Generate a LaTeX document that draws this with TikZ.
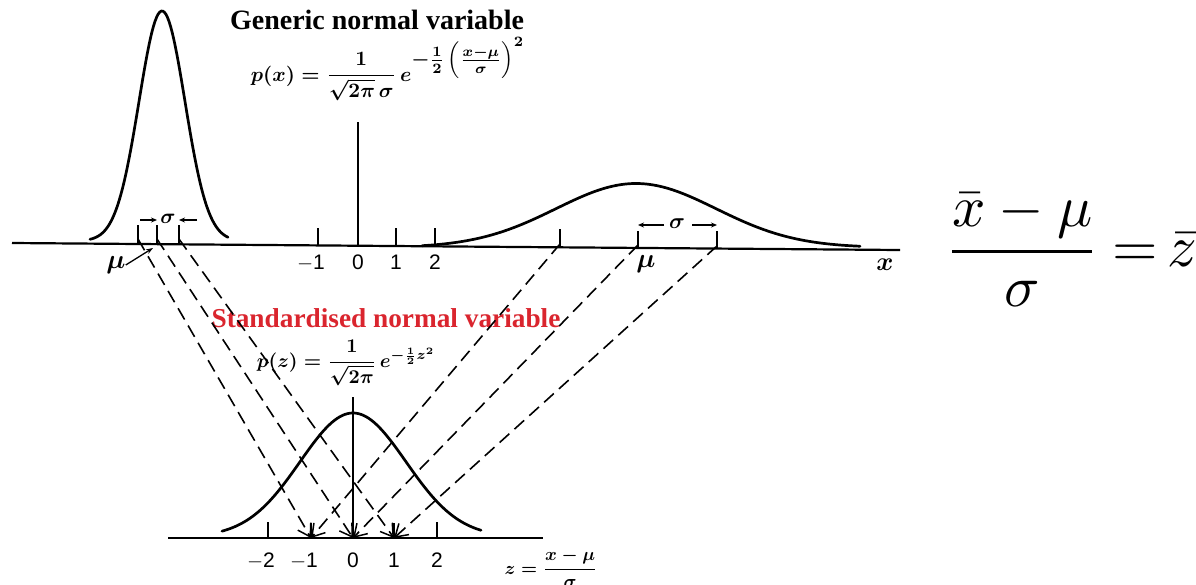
\documentclass[tikz,border=0pt]{standalone}
\usepackage{graphicx}
\usepackage{fontspec}
\usepackage{amsmath}
\setmainfont{Liberation Serif}
\newfontfamily\numfont{Liberation Sans}
\usetikzlibrary{arrows.meta}
\definecolor{redtitle}{RGB}{218,37,46}
\newcommand\myPxFormula{$p(x)=\dfrac{1}{\sqrt{2\pi}\,\sigma}\,e^{\textstyle-\frac{1}{2}\left(\frac{x-\mu}{\sigma}\right)^{2}}$}
\newcommand\myPzFormula{$p(z)=\dfrac{1}{\sqrt{2\pi}}\,e^{-\frac{1}{2}z^{2}}$}
\newcommand\myZdef{$z=\dfrac{x-\mu}{\sigma}$}
\newcommand\myZbar{$\dfrac{\bar{x}-\mu}{\sigma}\mkern-1mu=\mkern-2mu\bar{z}$}
\begin{document}
\begin{tikzpicture}[x=1pt,y=-1pt,
  curve/.style={line width=2.7pt, line join=round, line cap=round},
  axisline/.style={line width=2.2pt},
  tickline/.style={line width=1.6pt},
  dashline/.style={line width=1.6pt, dash pattern=on 13pt off 7pt,
     -{Straight Barb[length=12pt,width=15pt,line width=1.5pt]}},
  sigarrow/.style={line width=1.3pt, -{Stealth[length=6pt,width=5pt]}},
  numlbl/.style={font=\numfont\fontsize{21}{24}\selectfont, inner sep=0pt, anchor=base},
  mulbl/.style={font=\fontsize{10}{12}\selectfont\mathversion{bold}, inner sep=0pt},
  formula/.style={font=\fontsize{10}{12}\selectfont\mathversion{bold}, inner sep=0pt, anchor=base},
  titlefont/.style={font=\bfseries\fontsize{28}{30}\selectfont, inner sep=0pt, anchor=base}]
\useasboundingbox (0,0) rectangle (1196,584);

% ---------- top axis ----------
\coordinate (axL) at (12,243);
\coordinate (axR) at (900,250);
\draw[axisline] (axL) -- (axR);

% left narrow curve
\draw[curve] plot[domain=-72:66, samples=90] ({162+\x},{241-230*exp(-((\x/23)^2)/2)});
% left ticks
\coordinate (LA) at (138,244); \coordinate (LB) at (157,244); \coordinate (LC) at (179,244);
\draw[tickline] (LA) -- (138,225);
\draw[tickline] (LB) -- (157,225);
\draw[tickline] (LC) -- (179,225);
\node[mulbl] (sigL) at (168,219) {\scalebox{2.1}{$\sigma$}};
\coordinate (sLa) at (140,220); \coordinate (sLb) at (157,220);
\coordinate (sLc) at (197,220); \coordinate (sLd) at (179,220);
\draw[sigarrow] (sLa) -- (sLb);
\draw[sigarrow] (sLc) -- (sLd);
\node[mulbl] (muL) at (116,265) {\scalebox{2.7}{$\mu$}};
\coordinate (muLt) at (153,248);
\draw[line width=1.3pt, -{Stealth[length=7pt,width=5pt]}] (muL.east) -- (muLt);

% central vertical axis and ticks
\coordinate (c0) at (358,245.7);
\draw[line width=1.6pt] (c0) -- (358,122);
\draw[tickline] (318,245.4) -- (318,228);
\draw[tickline] (396,246) -- (396,228);
\draw[tickline] (435,246.3) -- (435,228);
\node[numlbl] (tm1) at (311,269) {$-$1};
\node[numlbl] (t0) at (358,269) {0};
\node[numlbl] (t1) at (396,269) {1};
\node[numlbl] (t2) at (435,269) {2};

% right wide curve
\draw[curve] plot[domain=-214:224, samples=120] ({636+\x},{247.5-64*exp(-((\x/80)^2)/2)});
\coordinate (RA) at (560,247); \coordinate (RB) at (638,248); \coordinate (RC) at (717,249);
\draw[tickline] (RA) -- (560,229);
\draw[tickline] (RB) -- (638,231);
\draw[tickline] (RC) -- (717,231);
\node[mulbl] (sigR) at (677,224) {\scalebox{2.2}{$\sigma$}};
\coordinate (sRa) at (664,225); \coordinate (sRb) at (638,225);
\coordinate (sRc) at (692,225); \coordinate (sRd) at (717,225);
\draw[sigarrow] (sRa) -- (sRb);
\draw[sigarrow] (sRc) -- (sRd);
\node[mulbl] (muR) at (646,264) {\scalebox{2.7}{$\mu$}};
\node[mulbl] (xlbl) at (885,265) {\scalebox{2.6}{$x$}};

% ---------- titles and formulas ----------
\node[titlefont] (gtitle) at (377,29) {Generic normal variable};
\node[formula] (px) at (388,81) {\scalebox{2.05}{\myPxFormula}};
\node[titlefont, text=redtitle, font=\bfseries\fontsize{27.3}{30}\selectfont] (stitle) at (386,327) {Standardised normal variable};
\node[formula] (pz) at (346,367) {\scalebox{1.95}{\myPzFormula}};
\node[formula] (zdef) at (551,574) {\scalebox{1.8}{\myZdef}};
\node[inner sep=0pt, anchor=base west, font=\fontsize{10}{12}\selectfont] (zbar) at (945,266) {\scalebox{5.85}{\myZbar}};

% ---------- bottom axis ----------
\coordinate (bL) at (168,538); \coordinate (bR) at (543,538);
\draw[axisline] (bL) -- (bR);
\draw[curve] plot[domain=-131:128, samples=100] ({353+\x},{537-124*exp(-((\x/53)^2)/2)});
\coordinate (Bm1) at (311,538); \coordinate (B0) at (353,538); \coordinate (B1) at (394,538);
\draw[tickline] (268,538) -- (268,522);
\draw[tickline] (437,538) -- (437,522);
\draw[tickline] (Bm1) -- (311,523);
\draw[tickline] (B1) -- (394,523);
\draw[line width=1.6pt] (B0) -- (353,397);
\node[numlbl] (bm2) at (261,567) {$-$2};
\node[numlbl] (bm1) at (304,567) {$-$1};
\node[numlbl] (b0) at (353,567) {0};
\node[numlbl] (b1) at (394,567) {1};
\node[numlbl] (b2) at (437,567) {2};

% ---------- dashed mapping lines ----------
\draw[dashline] ([yshift=5pt]LA) -- (Bm1);
\draw[dashline] ([yshift=5pt]LB) -- (B0);
\draw[dashline] ([yshift=5pt]LC) -- (B1);
\draw[dashline] ([yshift=3pt]RA) -- (Bm1);
\draw[dashline] ([yshift=3pt]RB) -- (B0);
\draw[dashline] ([yshift=3pt]RC) -- (B1);
\end{tikzpicture}
\end{document}
